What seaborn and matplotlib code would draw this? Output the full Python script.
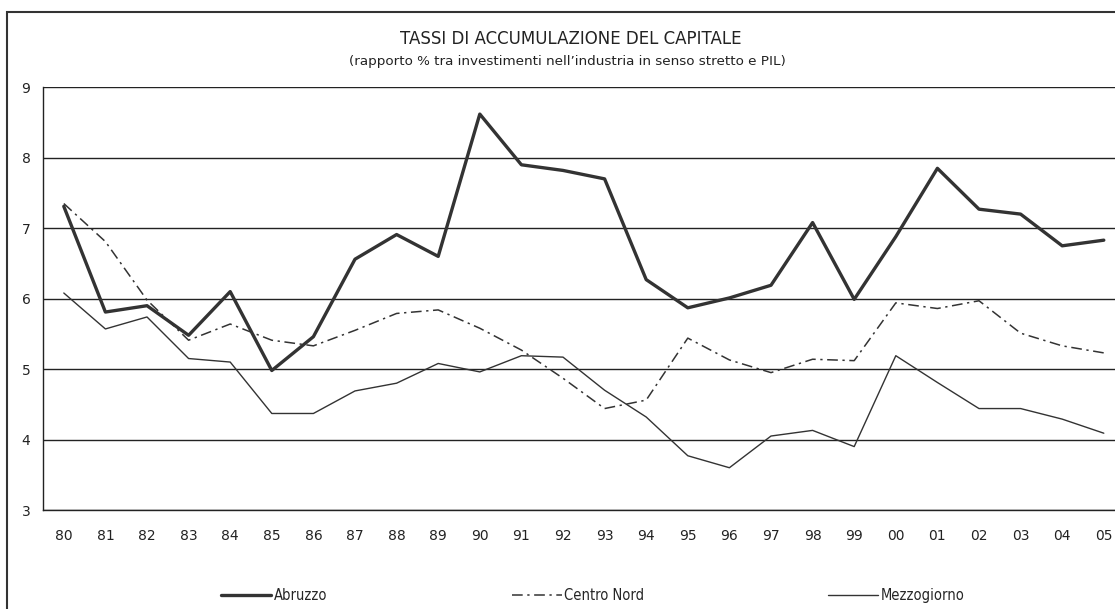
import numpy as np
import pandas as pd
import matplotlib
matplotlib.use("Agg")
import matplotlib.pyplot as plt
from matplotlib.patches import Rectangle
from matplotlib.lines import Line2D
import seaborn as sns

# data
anni = ['80', '81', '82', '83', '84', '85', '86', '87', '88', '89', '90', '91', '92',
        '93', '94', '95', '96', '97', '98', '99', '00', '01', '02', '03', '04', '05']
abruzzo = [7.31, 5.81, 5.90, 5.48, 6.10, 4.98, 5.46, 6.56, 6.91, 6.60, 8.62, 7.90, 7.82,
           7.70, 6.27, 5.87, 6.01, 6.19, 7.08, 5.99, 6.88, 7.85, 7.27, 7.20, 6.75, 6.83]
centro_nord = [7.35, 6.81, 5.98, 5.41, 5.64, 5.41, 5.33, 5.55, 5.79, 5.84, 5.58, 5.27, 4.87,
               4.44, 4.56, 5.44, 5.13, 4.95, 5.14, 5.12, 5.94, 5.86, 5.97, 5.51, 5.33, 5.23]
mezzogiorno = [6.08, 5.57, 5.74, 5.15, 5.10, 4.37, 4.37, 4.69, 4.80, 5.08, 4.96, 5.19, 5.17,
               4.70, 4.32, 3.77, 3.60, 4.05, 4.13, 3.90, 5.19, 4.81, 4.44, 4.44, 4.29, 4.09]
serie = ['Abruzzo', 'Centro Nord', 'Mezzogiorno']

df = pd.DataFrame({'anno': anni, 'Abruzzo': abruzzo,
                   'Centro Nord': centro_nord, 'Mezzogiorno': mezzogiorno})
df_long = df.melt(id_vars='anno', var_name='serie', value_name='valore')

sns.set_style("white")
plt.rcParams['font.family'] = ['DejaVu Sans']
narrow = dict(family=['DejaVu Sans'], stretch='condensed')  # legend text is narrow

W, H = 1115, 609
fig = plt.figure(figsize=(W / 100, H / 100), dpi=100)
# plot area runs past the right edge of the picture, as in the original crop
ax = fig.add_axes([43 / W, 1 - 510 / H, (1124.6 - 43) / W, (510 - 87.3) / H])

stili = {
    'Abruzzo': dict(color='#333333', lw=2.4, ls='-'),
    'Centro Nord': dict(color='#333333', lw=1.1, ls=(0, (7, 3, 1.5, 3))),
    'Mezzogiorno': dict(color='#333333', lw=1.0, ls='-'),
}

for s in serie:
    sub = df_long[df_long['serie'] == s]
    sns.lineplot(data=sub, x='anno', y='valore', ax=ax, sort=False,
                 color=stili[s]['color'], linewidth=stili[s]['lw'],
                 linestyle=stili[s]['ls'], label=s, legend=False)

ax.set_xlim(-0.5, len(anni) - 0.5)
ax.set_ylim(3, 9)
ax.set_yticks(range(3, 10))
ax.yaxis.grid(True, color='#222222', lw=1.0)
ax.xaxis.grid(False)

# category ticks between years, labels centred on years
ax.set_xticks(range(len(anni)))
ax.set_xticklabels(anni)
ax.set_xticks(np.arange(-0.5, len(anni), 1.0), minor=True)
ax.tick_params(axis='x', which='major', length=0, pad=14, labelsize=10, colors='#222222')
ax.tick_params(axis='x', which='minor', length=5, width=1, direction='out', color='#222222')
ax.tick_params(axis='y', which='major', length=5, width=1, direction='out',
               labelsize=10, colors='#222222', pad=4)
ax.set_xlabel('')
ax.set_ylabel('')

for side in ['top', 'right']:
    ax.spines[side].set_visible(False)
for side in ['left', 'bottom']:
    ax.spines[side].set_color('#222222')
    ax.spines[side].set_linewidth(1.0)

# titles
fig.text(571 / W, 1 - 44 / H, 'TASSI DI ACCUMULAZIONE DEL CAPITALE',
         ha='center', va='baseline', fontsize=12, color='#222222')
fig.text(567 / W, 1 - 65 / H,
         '(rapporto % tra investimenti nell\u2019industria in senso stretto e PIL)',
         ha='center', va='baseline', fontsize=9.7, color='#222222')

# legend entries, evenly spaced as in the original
leg_x = [221, 512, 828]
for s, x in zip(serie, leg_x):
    h = Line2D([], [], color=stili[s]['color'], lw=stili[s]['lw'], ls=stili[s]['ls'])
    fig.legend([h], [s], loc='upper left', bbox_to_anchor=(x / W, 1 - 588 / H),
               frameon=False, handlelength=3.4, handletextpad=0.2,
               borderaxespad=0, borderpad=0,
               prop=dict(size=10.5, **narrow))

# outer chart frame
fig.add_artist(Rectangle((7 / W, -0.05), 1.2, 1 - 12 / H + 0.05,
                         transform=fig.transFigure, fill=False,
                         edgecolor='#333333', lw=1.5))

fig.savefig('out.png', dpi=100)
